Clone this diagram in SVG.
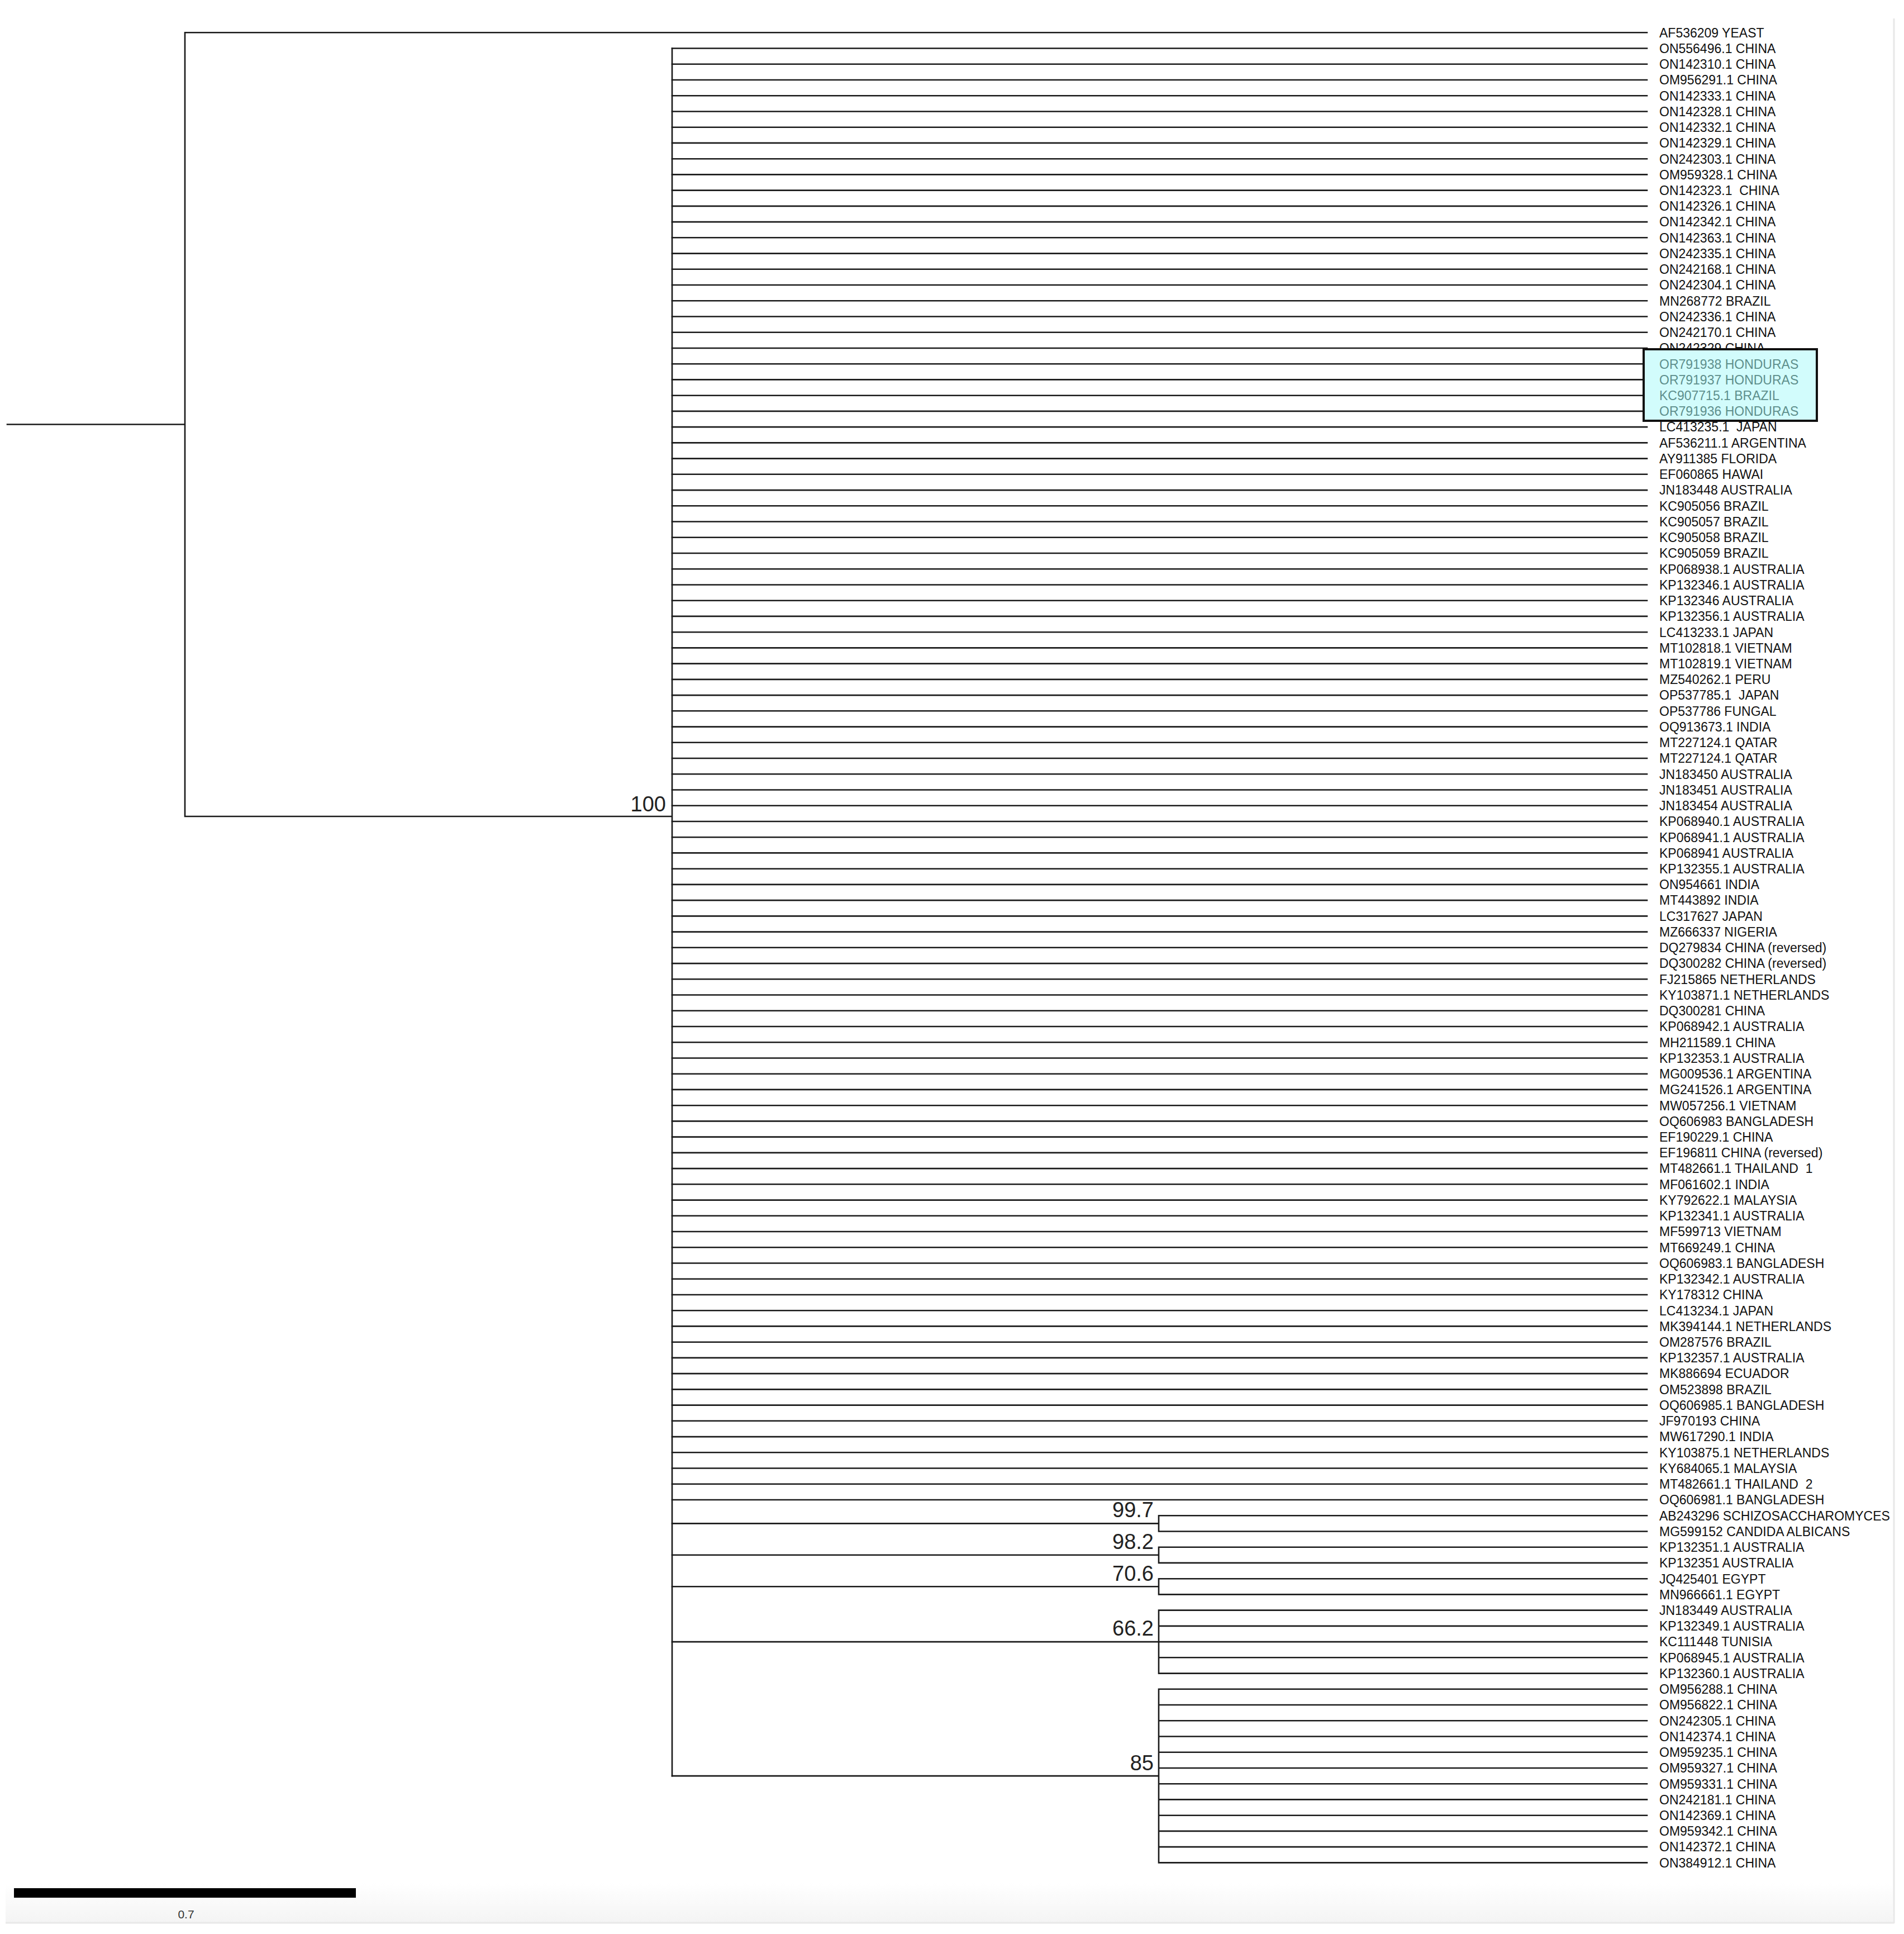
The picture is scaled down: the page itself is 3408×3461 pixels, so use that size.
<svg xmlns="http://www.w3.org/2000/svg" width="3408" height="3461" viewBox="0 0 3408 3461">
<defs>
<style>
.br{fill:none;stroke:#1a1a1a;stroke-width:2.6;stroke-linecap:square;stroke-linejoin:miter}
.lf{font-family:"Liberation Sans",Arial,sans-serif;font-size:23px;fill:#111;white-space:pre}
.hl{font-family:"Liberation Sans",Arial,sans-serif;font-size:23px;fill:#5e8f8c;white-space:pre}
.bs{font-family:"Liberation Sans",Arial,sans-serif;font-size:38px;fill:#222;text-anchor:end}
</style>
<linearGradient id="shade" x1="0" y1="0" x2="0" y2="1">
<stop offset="0" stop-color="#ffffff"/>
<stop offset="1" stop-color="#f4f4f4"/>
</linearGradient>
</defs>
<rect x="0" y="0" width="3408" height="3461" fill="#ffffff"/>
<g id="frame">
<rect x="10" y="3370" width="3378" height="70" fill="url(#shade)"/>
<line x1="3390" y1="33" x2="3390" y2="3442" stroke="#e8e8e8" stroke-width="3"/>
<line x1="10" y1="3441" x2="3390" y2="3441" stroke="#e8e8e8" stroke-width="3"/>
</g>
<g id="connectors" class="br">
<path d="M13,759.5H331M331,58.3V1461M331,58.3H2948M331,1461H1203M1203,86.5V3178.1"/>
<path d="M1203,86.5H2948M1203,114.8H2948M1203,143H2948M1203,171.2H2948M1203,199.5H2948M1203,227.7H2948M1203,255.9H2948M1203,284.2H2948M1203,312.4H2948M1203,340.6H2948M1203,368.9H2948M1203,397.1H2948M1203,425.3H2948M1203,453.6H2948M1203,481.8H2948M1203,510H2948M1203,538.3H2948M1203,566.5H2948M1203,594.7H2948M1203,623H2948M1203,651.2H2948M1203,679.4H2948M1203,707.7H2948M1203,735.9H2948M1203,764.1H2948M1203,792.4H2948M1203,820.6H2948M1203,848.8H2948M1203,877.1H2948M1203,905.3H2948M1203,933.5H2948M1203,961.8H2948M1203,990H2948M1203,1018.2H2948M1203,1046.5H2948M1203,1074.7H2948M1203,1102.9H2948M1203,1131.2H2948M1203,1159.4H2948M1203,1187.6H2948M1203,1215.9H2948M1203,1244.1H2948M1203,1272.3H2948M1203,1300.6H2948M1203,1328.8H2948M1203,1357H2948M1203,1385.3H2948M1203,1413.5H2948M1203,1441.7H2948M1203,1470H2948M1203,1498.2H2948M1203,1526.4H2948M1203,1554.7H2948M1203,1582.9H2948M1203,1611.1H2948M1203,1639.4H2948M1203,1667.6H2948M1203,1695.8H2948M1203,1724.1H2948M1203,1752.3H2948M1203,1780.5H2948M1203,1808.8H2948M1203,1837H2948M1203,1865.2H2948M1203,1893.5H2948M1203,1921.7H2948M1203,1949.9H2948M1203,1978.2H2948M1203,2006.4H2948M1203,2034.6H2948M1203,2062.9H2948M1203,2091.1H2948M1203,2119.3H2948M1203,2147.6H2948M1203,2175.8H2948M1203,2204H2948M1203,2232.3H2948M1203,2260.5H2948M1203,2288.7H2948M1203,2317H2948M1203,2345.2H2948M1203,2373.4H2948M1203,2401.7H2948M1203,2429.9H2948M1203,2458.1H2948M1203,2486.4H2948M1203,2514.6H2948M1203,2542.8H2948M1203,2571.1H2948M1203,2599.3H2948M1203,2627.5H2948M1203,2655.8H2948M1203,2684H2948"/>
<path d="M1203,2726.35H2074M2074,2712.2V2740.5M2074,2712.2H2948M2074,2740.5H2948"/>
<path d="M1203,2782.8H2074M2074,2768.7V2796.9M2074,2768.7H2948M2074,2796.9H2948"/>
<path d="M1203,2839.3H2074M2074,2825.2V2853.4M2074,2825.2H2948M2074,2853.4H2948"/>
<path d="M1203,2938.1H2074M2074,2881.6V2994.6M2074,2881.6H2948M2074,2909.9H2948M2074,2938.1H2948M2074,2966.3H2948M2074,2994.6H2948"/>
<path d="M1203,3178.1H2074M2074,3022.8V3333.4M2074,3022.8H2948M2074,3051H2948M2074,3079.3H2948M2074,3107.5H2948M2074,3135.7H2948M2074,3164H2948M2074,3192.2H2948M2074,3220.4H2948M2074,3248.7H2948M2074,3276.9H2948M2074,3305.1H2948M2074,3333.4H2948"/>
</g>
<g id="bootstrap">
<g id="node-100"><text class="bs" x="1192" y="1452">100</text></g>
<g id="node-99_7"><text class="bs" x="2065" y="2715">99.7</text></g>
<g id="node-98_2"><text class="bs" x="2065" y="2772">98.2</text></g>
<g id="node-70_6"><text class="bs" x="2065" y="2829">70.6</text></g>
<g id="node-66_2"><text class="bs" x="2065" y="2927">66.2</text></g>
<g id="node-85"><text class="bs" x="2065" y="3168">85</text></g>
</g>
<g id="leaves">
<g id="leaf-1"><text class="lf" x="2970" y="66.6">AF536209 YEAST</text></g>
<g id="leaf-2"><text class="lf" x="2970" y="94.8">ON556496.1 CHINA</text></g>
<g id="leaf-3"><text class="lf" x="2970" y="123.1">ON142310.1 CHINA</text></g>
<g id="leaf-4"><text class="lf" x="2970" y="151.3">OM956291.1 CHINA</text></g>
<g id="leaf-5"><text class="lf" x="2970" y="179.5">ON142333.1 CHINA</text></g>
<g id="leaf-6"><text class="lf" x="2970" y="207.8">ON142328.1 CHINA</text></g>
<g id="leaf-7"><text class="lf" x="2970" y="236">ON142332.1 CHINA</text></g>
<g id="leaf-8"><text class="lf" x="2970" y="264.2">ON142329.1 CHINA</text></g>
<g id="leaf-9"><text class="lf" x="2970" y="292.5">ON242303.1 CHINA</text></g>
<g id="leaf-10"><text class="lf" x="2970" y="320.7">OM959328.1 CHINA</text></g>
<g id="leaf-11"><text class="lf" x="2970" y="348.9">ON142323.1  CHINA</text></g>
<g id="leaf-12"><text class="lf" x="2970" y="377.2">ON142326.1 CHINA</text></g>
<g id="leaf-13"><text class="lf" x="2970" y="405.4">ON142342.1 CHINA</text></g>
<g id="leaf-14"><text class="lf" x="2970" y="433.6">ON142363.1 CHINA</text></g>
<g id="leaf-15"><text class="lf" x="2970" y="461.9">ON242335.1 CHINA</text></g>
<g id="leaf-16"><text class="lf" x="2970" y="490.1">ON242168.1 CHINA</text></g>
<g id="leaf-17"><text class="lf" x="2970" y="518.3">ON242304.1 CHINA</text></g>
<g id="leaf-18"><text class="lf" x="2970" y="546.6">MN268772 BRAZIL</text></g>
<g id="leaf-19"><text class="lf" x="2970" y="574.8">ON242336.1 CHINA</text></g>
<g id="leaf-20"><text class="lf" x="2970" y="603">ON242170.1 CHINA</text></g>
<g id="leaf-21"><text class="lf" x="2970" y="631.3">ON242329 CHINA</text></g>
<g id="highlight">
<rect x="2942" y="625" width="310" height="128" fill="#d2fcfc" stroke="#111" stroke-width="4"/>
<g id="leaf-22"><text class="hl" x="2970" y="659.5">OR791938 HONDURAS</text></g>
<g id="leaf-23"><text class="hl" x="2970" y="687.7">OR791937 HONDURAS</text></g>
<g id="leaf-24"><text class="hl" x="2970" y="716">KC907715.1 BRAZIL</text></g>
<g id="leaf-25"><text class="hl" x="2970" y="744.2">OR791936 HONDURAS</text></g>
</g>
<g id="leaf-26"><text class="lf" x="2970" y="772.4">LC413235.1  JAPAN</text></g>
<g id="leaf-27"><text class="lf" x="2970" y="800.7">AF536211.1 ARGENTINA</text></g>
<g id="leaf-28"><text class="lf" x="2970" y="828.9">AY911385 FLORIDA</text></g>
<g id="leaf-29"><text class="lf" x="2970" y="857.1">EF060865 HAWAI</text></g>
<g id="leaf-30"><text class="lf" x="2970" y="885.4">JN183448 AUSTRALIA</text></g>
<g id="leaf-31"><text class="lf" x="2970" y="913.6">KC905056 BRAZIL</text></g>
<g id="leaf-32"><text class="lf" x="2970" y="941.8">KC905057 BRAZIL</text></g>
<g id="leaf-33"><text class="lf" x="2970" y="970.1">KC905058 BRAZIL</text></g>
<g id="leaf-34"><text class="lf" x="2970" y="998.3">KC905059 BRAZIL</text></g>
<g id="leaf-35"><text class="lf" x="2970" y="1026.5">KP068938.1 AUSTRALIA</text></g>
<g id="leaf-36"><text class="lf" x="2970" y="1054.8">KP132346.1 AUSTRALIA</text></g>
<g id="leaf-37"><text class="lf" x="2970" y="1083">KP132346 AUSTRALIA</text></g>
<g id="leaf-38"><text class="lf" x="2970" y="1111.2">KP132356.1 AUSTRALIA</text></g>
<g id="leaf-39"><text class="lf" x="2970" y="1139.5">LC413233.1 JAPAN</text></g>
<g id="leaf-40"><text class="lf" x="2970" y="1167.7">MT102818.1 VIETNAM</text></g>
<g id="leaf-41"><text class="lf" x="2970" y="1195.9">MT102819.1 VIETNAM</text></g>
<g id="leaf-42"><text class="lf" x="2970" y="1224.2">MZ540262.1 PERU</text></g>
<g id="leaf-43"><text class="lf" x="2970" y="1252.4">OP537785.1  JAPAN</text></g>
<g id="leaf-44"><text class="lf" x="2970" y="1280.6">OP537786 FUNGAL</text></g>
<g id="leaf-45"><text class="lf" x="2970" y="1308.9">OQ913673.1 INDIA</text></g>
<g id="leaf-46"><text class="lf" x="2970" y="1337.1">MT227124.1 QATAR</text></g>
<g id="leaf-47"><text class="lf" x="2970" y="1365.3">MT227124.1 QATAR</text></g>
<g id="leaf-48"><text class="lf" x="2970" y="1393.6">JN183450 AUSTRALIA</text></g>
<g id="leaf-49"><text class="lf" x="2970" y="1421.8">JN183451 AUSTRALIA</text></g>
<g id="leaf-50"><text class="lf" x="2970" y="1450">JN183454 AUSTRALIA</text></g>
<g id="leaf-51"><text class="lf" x="2970" y="1478.3">KP068940.1 AUSTRALIA</text></g>
<g id="leaf-52"><text class="lf" x="2970" y="1506.5">KP068941.1 AUSTRALIA</text></g>
<g id="leaf-53"><text class="lf" x="2970" y="1534.7">KP068941 AUSTRALIA</text></g>
<g id="leaf-54"><text class="lf" x="2970" y="1563">KP132355.1 AUSTRALIA</text></g>
<g id="leaf-55"><text class="lf" x="2970" y="1591.2">ON954661 INDIA</text></g>
<g id="leaf-56"><text class="lf" x="2970" y="1619.4">MT443892 INDIA</text></g>
<g id="leaf-57"><text class="lf" x="2970" y="1647.7">LC317627 JAPAN</text></g>
<g id="leaf-58"><text class="lf" x="2970" y="1675.9">MZ666337 NIGERIA</text></g>
<g id="leaf-59"><text class="lf" x="2970" y="1704.1">DQ279834 CHINA (reversed)</text></g>
<g id="leaf-60"><text class="lf" x="2970" y="1732.4">DQ300282 CHINA (reversed)</text></g>
<g id="leaf-61"><text class="lf" x="2970" y="1760.6">FJ215865 NETHERLANDS</text></g>
<g id="leaf-62"><text class="lf" x="2970" y="1788.8">KY103871.1 NETHERLANDS</text></g>
<g id="leaf-63"><text class="lf" x="2970" y="1817.1">DQ300281 CHINA</text></g>
<g id="leaf-64"><text class="lf" x="2970" y="1845.3">KP068942.1 AUSTRALIA</text></g>
<g id="leaf-65"><text class="lf" x="2970" y="1873.5">MH211589.1 CHINA</text></g>
<g id="leaf-66"><text class="lf" x="2970" y="1901.8">KP132353.1 AUSTRALIA</text></g>
<g id="leaf-67"><text class="lf" x="2970" y="1930">MG009536.1 ARGENTINA</text></g>
<g id="leaf-68"><text class="lf" x="2970" y="1958.2">MG241526.1 ARGENTINA</text></g>
<g id="leaf-69"><text class="lf" x="2970" y="1986.5">MW057256.1 VIETNAM</text></g>
<g id="leaf-70"><text class="lf" x="2970" y="2014.7">OQ606983 BANGLADESH</text></g>
<g id="leaf-71"><text class="lf" x="2970" y="2042.9">EF190229.1 CHINA</text></g>
<g id="leaf-72"><text class="lf" x="2970" y="2071.2">EF196811 CHINA (reversed)</text></g>
<g id="leaf-73"><text class="lf" x="2970" y="2099.4">MT482661.1 THAILAND  1</text></g>
<g id="leaf-74"><text class="lf" x="2970" y="2127.6">MF061602.1 INDIA</text></g>
<g id="leaf-75"><text class="lf" x="2970" y="2155.9">KY792622.1 MALAYSIA</text></g>
<g id="leaf-76"><text class="lf" x="2970" y="2184.1">KP132341.1 AUSTRALIA</text></g>
<g id="leaf-77"><text class="lf" x="2970" y="2212.3">MF599713 VIETNAM</text></g>
<g id="leaf-78"><text class="lf" x="2970" y="2240.6">MT669249.1 CHINA</text></g>
<g id="leaf-79"><text class="lf" x="2970" y="2268.8">OQ606983.1 BANGLADESH</text></g>
<g id="leaf-80"><text class="lf" x="2970" y="2297">KP132342.1 AUSTRALIA</text></g>
<g id="leaf-81"><text class="lf" x="2970" y="2325.3">KY178312 CHINA</text></g>
<g id="leaf-82"><text class="lf" x="2970" y="2353.5">LC413234.1 JAPAN</text></g>
<g id="leaf-83"><text class="lf" x="2970" y="2381.7">MK394144.1 NETHERLANDS</text></g>
<g id="leaf-84"><text class="lf" x="2970" y="2410">OM287576 BRAZIL</text></g>
<g id="leaf-85"><text class="lf" x="2970" y="2438.2">KP132357.1 AUSTRALIA</text></g>
<g id="leaf-86"><text class="lf" x="2970" y="2466.4">MK886694 ECUADOR</text></g>
<g id="leaf-87"><text class="lf" x="2970" y="2494.7">OM523898 BRAZIL</text></g>
<g id="leaf-88"><text class="lf" x="2970" y="2522.9">OQ606985.1 BANGLADESH</text></g>
<g id="leaf-89"><text class="lf" x="2970" y="2551.1">JF970193 CHINA</text></g>
<g id="leaf-90"><text class="lf" x="2970" y="2579.4">MW617290.1 INDIA</text></g>
<g id="leaf-91"><text class="lf" x="2970" y="2607.6">KY103875.1 NETHERLANDS</text></g>
<g id="leaf-92"><text class="lf" x="2970" y="2635.8">KY684065.1 MALAYSIA</text></g>
<g id="leaf-93"><text class="lf" x="2970" y="2664.1">MT482661.1 THAILAND  2</text></g>
<g id="leaf-94"><text class="lf" x="2970" y="2692.3">OQ606981.1 BANGLADESH</text></g>
<g id="leaf-95"><text class="lf" x="2970" y="2720.5">AB243296 SCHIZOSACCHAROMYCES</text></g>
<g id="leaf-96"><text class="lf" x="2970" y="2748.8">MG599152 CANDIDA ALBICANS</text></g>
<g id="leaf-97"><text class="lf" x="2970" y="2777">KP132351.1 AUSTRALIA</text></g>
<g id="leaf-98"><text class="lf" x="2970" y="2805.2">KP132351 AUSTRALIA</text></g>
<g id="leaf-99"><text class="lf" x="2970" y="2833.5">JQ425401 EGYPT</text></g>
<g id="leaf-100"><text class="lf" x="2970" y="2861.7">MN966661.1 EGYPT</text></g>
<g id="leaf-101"><text class="lf" x="2970" y="2889.9">JN183449 AUSTRALIA</text></g>
<g id="leaf-102"><text class="lf" x="2970" y="2918.2">KP132349.1 AUSTRALIA</text></g>
<g id="leaf-103"><text class="lf" x="2970" y="2946.4">KC111448 TUNISIA</text></g>
<g id="leaf-104"><text class="lf" x="2970" y="2974.6">KP068945.1 AUSTRALIA</text></g>
<g id="leaf-105"><text class="lf" x="2970" y="3002.9">KP132360.1 AUSTRALIA</text></g>
<g id="leaf-106"><text class="lf" x="2970" y="3031.1">OM956288.1 CHINA</text></g>
<g id="leaf-107"><text class="lf" x="2970" y="3059.3">OM956822.1 CHINA</text></g>
<g id="leaf-108"><text class="lf" x="2970" y="3087.6">ON242305.1 CHINA</text></g>
<g id="leaf-109"><text class="lf" x="2970" y="3115.8">ON142374.1 CHINA</text></g>
<g id="leaf-110"><text class="lf" x="2970" y="3144">OM959235.1 CHINA</text></g>
<g id="leaf-111"><text class="lf" x="2970" y="3172.3">OM959327.1 CHINA</text></g>
<g id="leaf-112"><text class="lf" x="2970" y="3200.5">OM959331.1 CHINA</text></g>
<g id="leaf-113"><text class="lf" x="2970" y="3228.7">ON242181.1 CHINA</text></g>
<g id="leaf-114"><text class="lf" x="2970" y="3257">ON142369.1 CHINA</text></g>
<g id="leaf-115"><text class="lf" x="2970" y="3285.2">OM959342.1 CHINA</text></g>
<g id="leaf-116"><text class="lf" x="2970" y="3313.4">ON142372.1 CHINA</text></g>
<g id="leaf-117"><text class="lf" x="2970" y="3341.7">ON384912.1 CHINA</text></g>
</g>
<g id="scale-bar">
<rect x="25" y="3379" width="612" height="17" fill="#000"/>
<text x="333" y="3433" font-family="'Liberation Sans',Arial,sans-serif" font-size="21" fill="#333" text-anchor="middle">0.7</text>
</g>
</svg>
